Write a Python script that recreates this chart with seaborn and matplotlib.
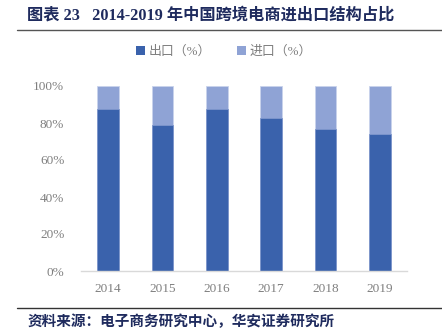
import matplotlib
matplotlib.use("Agg")
import matplotlib.pyplot as plt
import seaborn as sns
import pandas as pd
from matplotlib.lines import Line2D
from matplotlib.patches import Patch

years = ["2014", "2015", "2016", "2017", "2018", "2019"]
export_pct = [87.6, 79.1, 87.4, 82.7, 76.8, 74.2]
import_pct = [100 - v for v in export_pct]
yticks = [0, 20, 40, 60, 80, 100]
ytick_labels = ["0%", "20%", "40%", "60%", "80%", "100%"]

title = "图表 23   2014-2019 年中国跨境电商进出口结构占比"
source = "资料来源：电子商务研究中心，华安证券研究所"
legend_labels = ["出口（%）", "进口（%）"]

sns.set_theme(style="white")
plt.rcParams['font.family'] = ['Liberation Serif', 'Noto Sans CJK SC', 'DejaVu Sans']

dark = "#3A62AC"
light = "#8FA3D5"
navy = "#1F2B5E"
gray = "#7F7F7F"

df = pd.DataFrame({"year": years, "export": export_pct, "import": import_pct})
df["total"] = df["export"] + df["import"]

fig = plt.figure(figsize=(4.42, 3.36), dpi=100)
ax = fig.add_axes([81/442, 1-271/336, 326/442, 185/336])

sns.barplot(data=df, x="year", y="total", color=light, width=0.4, ax=ax,
            edgecolor="#C9D3EC", linewidth=0.6, saturation=1)
sns.barplot(data=df, x="year", y="export", color=dark, width=0.4, ax=ax,
            edgecolor="#7F97CC", linewidth=0.6, saturation=1)

ax.set_ylim(0, 100)
ax.set_yticks(yticks)
ax.set_yticklabels(ytick_labels)
ax.set_xlabel("")
ax.set_ylabel("")
for s in ["top", "right", "left"]:
    ax.spines[s].set_visible(False)
ax.spines["bottom"].set_color("#D9D9D9")
ax.spines["bottom"].set_linewidth(1.0)
ax.tick_params(axis="both", length=0, colors=gray, labelsize=9.5)
ax.tick_params(axis="y", pad=12)
ax.tick_params(axis="x", pad=9)

fig.text(27/442, 1-16/336, title, fontsize=11.7, fontweight="bold", color=navy,
         va="center", ha="left")
fig.add_artist(Line2D([17/442, 1.0], [1-30/336, 1-30/336], color="#555555", lw=1.0))

handles = [Patch(facecolor=dark, edgecolor="none"), Patch(facecolor=light, edgecolor="none")]
leg = fig.legend(handles, legend_labels, loc="center", bbox_to_anchor=(224/442, 1-52/336),
                 ncol=2, frameon=False, fontsize=9.3, handlelength=0.7, handleheight=0.7,
                 handletextpad=0.3, columnspacing=2.0)
for t in leg.get_texts():
    t.set_color(gray)

fig.add_artist(Line2D([17/442, 1.0], [1-308/336, 1-308/336], color="#333333", lw=1.0))
fig.text(27/442, 1-322/336, source, fontsize=10.5, fontweight="bold", color=navy,
         va="center", ha="left")

fig.savefig("out.png", dpi=100)
